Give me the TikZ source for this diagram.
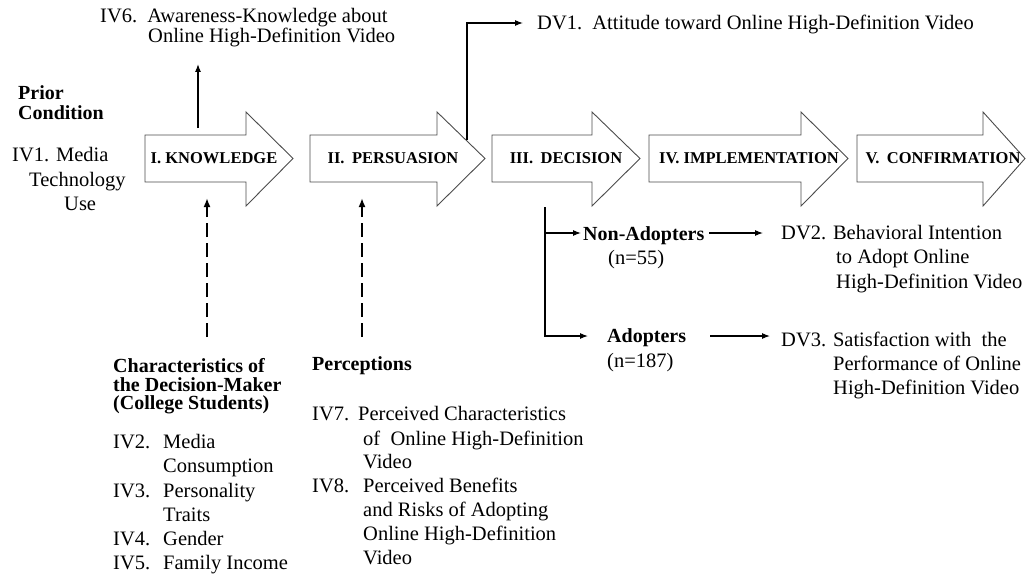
\documentclass[tikz,border=0pt]{standalone}
\usepackage{fontspec}
\setmainfont{Liberation Serif}
\usetikzlibrary{arrows.meta}
\tikzset{
  reg/.style={font=\fontsize{20.5}{24}\selectfont, inner sep=0pt, anchor=base west},
  bld/.style={font=\fontsize{20}{18}\selectfont\bfseries, inner sep=0pt, anchor=base west},
  lab/.style={font=\fontsize{16.5}{16}\selectfont\bfseries, inner sep=0pt, anchor=center},
  blockarr/.style={draw=black!70, line width=0.9pt, fill=white, line join=miter},
  conn/.style={line width=1.1pt, -{Latex[length=8pt,width=6pt]}},
  dconn/.style={line width=2pt, dash pattern=on 14pt off 6pt, -{Latex[length=9pt,width=7pt]}}
}
\newcommand{\blockarrow}[3]{%
  \draw[blockarr] (#1,135) -- (#2,135) -- (#2,112) -- (#3,158.5) -- (#2,206) -- (#2,182) -- (#1,182) -- cycle;
}
\begin{document}
\begin{tikzpicture}[x=1pt,y=-1pt]
\useasboundingbox (0,0) rectangle (1027,575);

% block arrows (stages)
\blockarrow{145}{246}{293}
\blockarrow{310}{437}{485}
\blockarrow{492}{592}{640}
\blockarrow{649}{801}{848}
\blockarrow{857}{983}{1025}
\node[lab] (s1) at (214,158) {I. KNOWLEDGE};
\node[lab] (s2) at (393,158) {II.\hspace{0.45em}PERSUASION};
\node[lab] (s3) at (566,158) {III.\hspace{0.45em}DECISION};
\node[lab] (s4) at (749,158) {IV. IMPLEMENTATION};
\node[lab] (s5) at (943,158) {V.\hspace{0.45em}CONFIRMATION};

% IV6
\node[reg] (iv6a) at (100,23) {IV6.\hspace{0.5em}Awareness-Knowledge about};
\node[reg] (iv6b) at (148,43) {Online High-Definition Video};

% DV1
\node[reg] (dv1) at (537,30) {DV1.\hspace{0.5em}Attitude toward Online High-Definition Video};

% Prior condition
\node[bld] (pc1) at (18,100) {Prior};
\node[bld] (pc2) at (18,120) {Condition};
\node[reg] (iv1a) at (12,161) {IV1. Media};
\node[reg] (iv1b) at (29,186) {Technology};
\node[reg] (iv1c) at (64,210) {Use};

% Characteristics
\node[bld] (ch1) at (113,372) {Characteristics of};
\node[bld] (ch2) at (113,391) {the Decision-Maker};
\node[bld] (ch3) at (113,409) {(College Students)};
\node[reg] (iv2a) at (113,448) {IV2.};
\node[reg] (iv2b) at (163,448) {Media};
\node[reg] (iv2c) at (163,472) {Consumption};
\node[reg] (iv3a) at (113,497) {IV3.};
\node[reg] (iv3b) at (163,497) {Personality};
\node[reg] (iv3c) at (163,521) {Traits};
\node[reg] (iv4a) at (113,545) {IV4.};
\node[reg] (iv4b) at (163,545) {Gender};
\node[reg] (iv5a) at (113,569) {IV5.};
\node[reg] (iv5b) at (163,569) {Family Income};

% Perceptions
\node[bld] (pe1) at (312,370) {Perceptions};
\node[reg] (iv7a) at (312,420) {IV7.};
\node[reg] (iv7b) at (358,420) {Perceived Characteristics};
\node[reg] (iv7c) at (363,445) {of\hspace{0.5em}Online High-Definition};
\node[reg] (iv7d) at (363,468) {Video};
\node[reg] (iv8a) at (312,492) {IV8.};
\node[reg] (iv8b) at (363,492) {Perceived Benefits};
\node[reg] (iv8c) at (363,516) {and Risks of Adopting};
\node[reg] (iv8d) at (363,540) {Online High-Definition};
\node[reg] (iv8e) at (363,564) {Video};

% Decision outcomes
\node[bld] (na) at (583,240) {Non-Adopters};
\node[reg] (na2) at (608,264) {(n=55)};
\node[bld] (ad) at (607,342) {Adopters};
\node[reg] (ad2) at (607,367) {(n=187)};
\node[reg] (dv2a) at (781,239) {DV2. Behavioral Intention};
\node[reg] (dv2b) at (836,263) {to Adopt Online};
\node[reg] (dv2c) at (836,288) {High-Definition Video};
\node[reg] (dv3a) at (781,346) {DV3. Satisfaction with\hspace{0.5em}the};
\node[reg] (dv3b) at (833,370) {Performance of Online};
\node[reg] (dv3c) at (833,394) {High-Definition Video};

% connector end points
\coordinate (k1top) at (198,128);
\coordinate (iv6in) at (198,64);
\coordinate (p2top) at (467,140);
\coordinate (dv1in) at (523,23);
\coordinate (chout) at (207,337);
\coordinate (k1in) at (207,198);
\coordinate (peout) at (362,337);
\coordinate (p2in) at (362,198);
\coordinate (d3out) at (545,207);
\coordinate (split1) at (545,233);
\coordinate (nain) at (581,233);
\coordinate (adin) at (588,336);
\coordinate (naout) at (709,233);
\coordinate (dv2in) at (763,233);
\coordinate (adout) at (710,336);
\coordinate (dv3in) at (770,336);

% connectors
\draw[conn] (k1top) -- (iv6in);
\draw[conn] (p2top) |- (dv1in);
\draw[dconn] (chout) -- (k1in);
\draw[dconn] (peout) -- (p2in);
\draw[conn] (d3out) |- (adin);
\draw[conn] (split1) -- (nain);
\draw[conn] (naout) -- (dv2in);
\draw[conn] (adout) -- (dv3in);
\end{tikzpicture}
\end{document}
